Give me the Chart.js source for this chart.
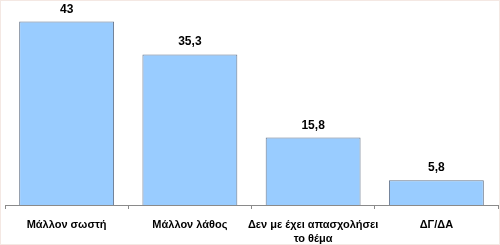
<!DOCTYPE html>
<html>
<head>
<meta charset="utf-8">
<script src="https://cdn.jsdelivr.net/npm/chart.js@4"></script>
<style>
  html, body { margin: 0; padding: 0; background: #fff; }
  #wrap { width: 500px; height: 245px; box-sizing: border-box; border: 1px solid #f4e8e3; position: relative; }
  canvas { position: absolute; left: -1px; top: -1px; }
</style>
</head>
<body>
<div id="wrap"><canvas id="myChart" width="500" height="245"></canvas></div>
<script>
const categories = ["Μάλλον σωστή", "Μάλλον λάθος", ["Δεν με έχει απασχολήσει", "το θέμα"], "ΔΓ/ΔΑ"];
const values = [43, 35.3, 15.8, 5.8];

// value labels above bars, greek decimal comma
const valueLabels = {
  id: "valueLabels",
  afterDatasetsDraw(chart) {
    const ctx = chart.ctx;
    const meta = chart.getDatasetMeta(0);
    ctx.save();
    ctx.font = "bold 12px Arial, 'Liberation Sans', sans-serif";
    ctx.fillStyle = "#000";
    ctx.textAlign = "center";
    ctx.textBaseline = "alphabetic";
    meta.data.forEach((bar, i) => {
      const text = values[i].toString().replace(".", ",");
      ctx.fillText(text, bar.x, bar.y - 9);
    });
    ctx.restore();
  },
};

const config = {
  type: "bar",
  data: {
    labels: categories,
    datasets: [
      {
        data: values,
        backgroundColor: "#99ccff",
        borderColor: "#66758a",
        borderWidth: 1,
        barPercentage: 0.77,
        categoryPercentage: 1,
      },
    ],
  },
  options: {
    responsive: false,
    animation: false,
    layout: {
      padding: { left: 5, right: 2, top: 13, bottom: 0 },
    },
    plugins: {
      legend: { display: false },
      tooltip: { enabled: false },
    },
    scales: {
      y: {
        display: false,
        min: 0,
        max: 45,
      },
      x: {
        border: { display: true, color: "#8a8a8a", width: 1 },
        grid: {
          drawOnChartArea: false,
          drawTicks: true,
          tickLength: 4,
          color: "#8a8a8a",
        },
        ticks: {
          color: "#000",
          padding: 8,
          maxRotation: 0,
          autoSkip: false,
          font: { family: "Arial, 'Liberation Sans', sans-serif", size: 11, weight: "bold", lineHeight: 1.36 },
        },
        afterFit: (scale) => {
          scale.height = 40;
        },
      },
    },
  },
  plugins: [valueLabels],
};

new Chart(document.getElementById("myChart"), config);
</script>
</body>
</html>
